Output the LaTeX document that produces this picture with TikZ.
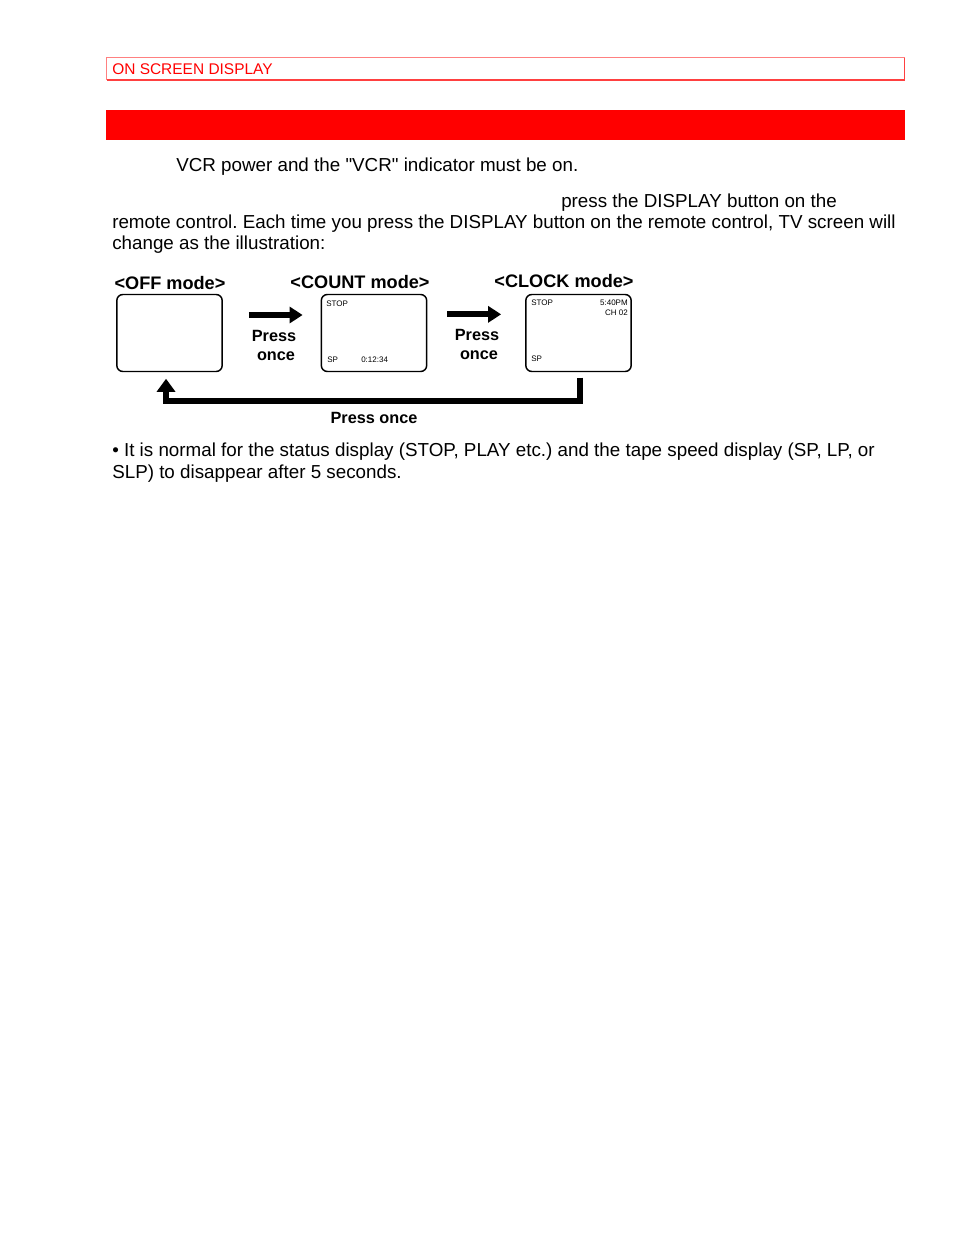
\documentclass[tikz,border=0pt]{standalone}
\usepackage{fontspec}
\setmainfont{Liberation Sans}
\usetikzlibrary{arrows.meta}
\frenchspacing
\begin{document}
\begin{tikzpicture}[x=0.75pt, y=-0.75pt,
  body/.style={anchor=base west, inner sep=0pt, font=\fontsize{14.1}{16}\selectfont},
  modelabel/.style={anchor=base, inner sep=0pt, font=\fontsize{13.6}{16}\selectfont\bfseries},
  presslabel/.style={anchor=base, inner sep=0pt, font=\fontsize{12.2}{14}\selectfont\bfseries},
  screen/.style={draw, rounded corners=4.5pt, line width=1.1pt, inner sep=0pt,
    minimum width=79pt, minimum height=57.75pt},
  tiny/.style={inner sep=0pt, font=\fontsize{6}{7}\selectfont},
  pressarrow/.style={line width=4.5pt, -{Triangle[length=9.75pt, width=12pt]}},
  backarrow/.style={line width=4.5pt, -{Triangle[length=9.75pt, width=13.5pt]}}]
  \path[use as bounding box] (0,0) rectangle (954,1235);

  % header
  \draw[red!50, line width=0.9pt] (106.5,57.5) rectangle (904.5,79.5);
  \draw[red!75, line width=0.9pt] (904.5,57.5) -- (904.5,80) -- (106.5,80);
  \node[body, red, font=\fontsize{11.6}{13}\selectfont] (headtxt) at (112,74) {ON SCREEN DISPLAY};
  \fill[red] (106,110) rectangle (905,140);

  % text
  \node[body] (line1) at (176,171) {VCR power and the \textquotedbl VCR\textquotedbl{} indicator must be on.};
  \node[body] (line2) at (561,207) {press the DISPLAY button on the};
  \node[body] (line3) at (112,228) {remote control. Each time you press the DISPLAY button on the remote control, TV screen will};
  \node[body] (line4) at (112,249) {change as the illustration:};

  % screens
  \node[screen] (off) at (169.5,333) {};
  \node[screen] (count) at (374,333) {};
  \node[screen] (clock) at (578.5,333) {};
  \node[modelabel] (offlbl) at (170,289) {<OFF mode>};
  \node[modelabel] (countlbl) at (360,288) {<COUNT mode>};
  \node[modelabel] (clocklbl) at (564,287) {<CLOCK mode>};

  \node[tiny, anchor=base west] (cstop) at (326,306) {STOP};
  \node[tiny, anchor=base west] (csp) at (327,362) {SP};
  \node[tiny, anchor=base west] (ctime) at (361,362) {0:12:34};
  \node[tiny, anchor=base west] (kstop) at (531,305) {STOP};
  \node[tiny, anchor=base east] (ktime) at (628,305) {5:40PM};
  \node[tiny, anchor=base east] (kch) at (628,315) {CH 02};
  \node[tiny, anchor=base west] (ksp) at (531,361) {SP};

  % arrows
  \draw[pressarrow] ([xshift=19.5pt,yshift=13.5pt]off.east) -- ([xshift=-13.5pt,yshift=13.5pt]count.west);
  \node[presslabel] (press1) at (274,341) {Press};
  \node[presslabel] (once1) at (276,360) {once};
  \draw[pressarrow] ([xshift=15pt,yshift=14pt]count.east) -- ([xshift=-18pt,yshift=14pt]clock.west);
  \node[presslabel] (press2) at (477,340) {Press};
  \node[presslabel] (once2) at (479,359) {once};

  \coordinate (back) at (374,401);
  \draw[backarrow] ([xshift=1.1pt,yshift=-4.1pt]clock.south) |- (back) -| ([xshift=-2.6pt,yshift=-4.9pt]off.south);
  \node[presslabel] (pressback) at (374,423) {Press once};

  % note
  \node[body] (note1) at (112,456) {• It is normal for the status display (STOP, PLAY etc.) and the tape speed display (SP, LP, or};
  \node[body] (note2) at (112,478) {SLP) to disappear after 5 seconds.};
\end{tikzpicture}
\end{document}
